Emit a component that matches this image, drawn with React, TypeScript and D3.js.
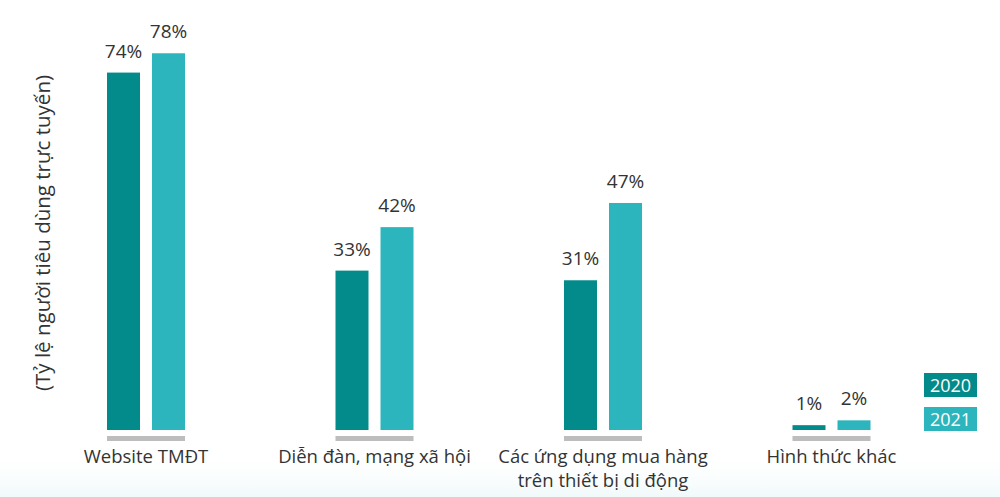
import * as React from 'react'
import * as d3 from 'd3'

const WIDTH = 1000
const HEIGHT = 497

const categories = [
  ['Website TMĐT'],
  ['Diễn đàn, mạng xã hội'],
  ['Các ứng dụng mua hàng', 'trên thiết bị di động'],
  ['Hình thức khác']
]
const seriesNames = ['2020', '2021']
const values2020 = [74, 33, 31, 1]
const values2021 = [78, 42, 47, 2]
const yDomain = [0, 80]
const yAxisTitle = '(Tỷ lệ người tiêu dùng trực tuyến)'

const COLORS = ['#038b8b', '#2cb5bc']
const FONT = '"Open Sans", "Noto Sans", sans-serif'

const PLOT_LEFT = 31.75
const PLOT_RIGHT = 945.75
const BASELINE_Y = 430
const TOP_Y = 43.6

export default function App() {
  const x0 = d3
    .scaleBand<number>()
    .domain(d3.range(categories.length))
    .range([PLOT_LEFT, PLOT_RIGHT])
    .paddingInner(0.6586)
    .paddingOuter(0.3293)
  const x1 = d3
    .scaleBand<string>()
    .domain(seriesNames)
    .range([0, x0.bandwidth()])
    .paddingInner(0.2667)
  const y = d3.scaleLinear().domain(yDomain).range([BASELINE_Y, TOP_Y])

  const series = [values2020, values2021]

  return (
    <div style={{ position: 'absolute', left: 0, top: 0 }}>
      <svg width={WIDTH} height={HEIGHT} style={{ display: 'block', background: '#fff' }}>
        <defs>
          <linearGradient id="bg-water" x1="0" y1="0" x2="0" y2="1">
            <stop offset="0" stopColor="#ffffff" stopOpacity={0} />
            <stop offset="1" stopColor="#e6f5f7" stopOpacity={0.6} />
          </linearGradient>
        </defs>
        <rect x={0} y={450} width={WIDTH} height={HEIGHT - 450} fill="url(#bg-water)" />

        <text
          transform={`translate(50,233) rotate(-90)`}
          textAnchor="middle"
          fontFamily={FONT}
          fontSize={20.5}
          fill="#333"
        >
          {yAxisTitle}
        </text>

        {categories.map((lines, i) => {
          const gx = x0(i) as number
          return (
            <g key={i}>
              {series.map((vals, s) => {
                const bx = gx + (x1(seriesNames[s]) as number)
                const by = y(vals[i])
                return (
                  <g key={s}>
                    <rect
                      x={bx}
                      y={by}
                      width={x1.bandwidth()}
                      height={y(0) - by}
                      fill={COLORS[s]}
                    />
                    <text
                      x={bx + x1.bandwidth() / 2}
                      y={by - 15}
                      textAnchor="middle"
                      fontFamily={FONT}
                      fontSize={19}
                      fill="#333"
                    >
                      {vals[i]}%
                    </text>
                  </g>
                )
              })}
              <rect x={gx} y={y(0) + 6} width={x0.bandwidth()} height={5} fill="#bdbdbd" />
              <text
                x={gx + x0.bandwidth() / 2}
                y={463}
                textAnchor="middle"
                fontFamily={FONT}
                fontSize={18.5}
                fill="#333"
              >
                {lines.map((l, k) => (
                  <tspan key={k} x={gx + x0.bandwidth() / 2} dy={k === 0 ? 0 : 24}>
                    {l}
                  </tspan>
                ))}
              </text>
            </g>
          )
        })}

        {seriesNames.map((name, s) => (
          <g key={name} transform={`translate(924,${373 + s * 34})`}>
            <rect width={53} height={24} fill={COLORS[s]} />
            <text
              x={26.5}
              y={19}
              textAnchor="middle"
              fontFamily={FONT}
              fontSize={18}
              fill="#fff"
            >
              {name}
            </text>
          </g>
        ))}
      </svg>
    </div>
  )
}
